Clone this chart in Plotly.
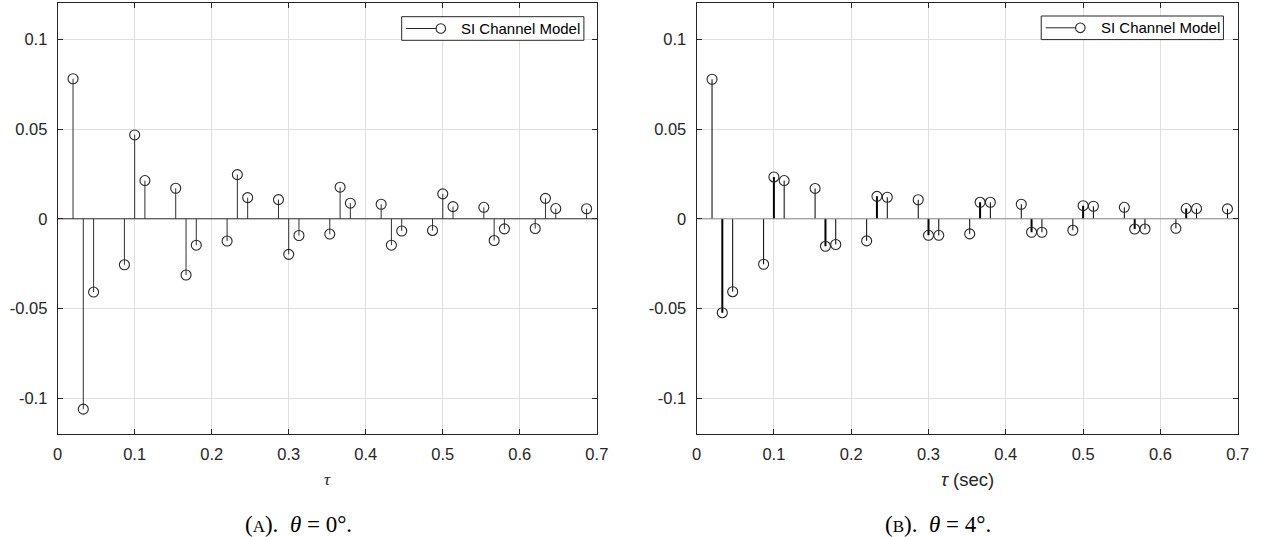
import plotly.graph_objects as go

# ---- data ----
tau = [0.02, 0.0333, 0.0467, 0.0867, 0.1, 0.1133, 0.1533, 0.1667, 0.18,
       0.22, 0.2333, 0.2467, 0.2867, 0.3, 0.3133, 0.3533, 0.3667, 0.38,
       0.42, 0.4333, 0.4467, 0.4867, 0.5, 0.5133, 0.5533, 0.5667, 0.58,
       0.62, 0.6333, 0.6467, 0.6867]
h_theta0 = [0.078, -0.106, -0.0408, -0.0256, 0.0467, 0.0213, 0.0170, -0.0313, -0.0147,
            -0.0124, 0.0246, 0.0118, 0.0107, -0.0198, -0.0093, -0.0085, 0.0176, 0.0087,
            0.0081, -0.0147, -0.0068, -0.0065, 0.0139, 0.0068, 0.0064, -0.0121, -0.0056,
            -0.0054, 0.0114, 0.0057, 0.0056]
h_theta4 = [0.0777, -0.0523, -0.0406, -0.0253, 0.0233, 0.0213, 0.0169, -0.0153, -0.0143,
            -0.0123, 0.0125, 0.0120, 0.0106, -0.0092, -0.0092, -0.0084, 0.0092, 0.0092,
            0.0081, -0.0075, -0.0075, -0.0064, 0.0073, 0.0070, 0.0064, -0.0057, -0.0057,
            -0.0053, 0.0057, 0.0057, 0.0055]
x_ticks = [0, 0.1, 0.2, 0.3, 0.4, 0.5, 0.6, 0.7]
x_tick_text = ["0", "0.1", "0.2", "0.3", "0.4", "0.5", "0.6", "0.7"]
y_ticks = [-0.1, -0.05, 0, 0.05, 0.1]
y_tick_text = ["-0.1", "-0.05", "0", "0.05", "0.1"]
legend_name = "SI Channel Model"

W, H = 1284, 537
AX = "#262626"
GRID = "#dfdfdf"
SANS = "Liberation Sans, Arial, sans-serif"
SERIF = "Liberation Serif, Times New Roman, serif"
NB = "\u00a0"


def stem_xy(xs, ys, idx):
    sx, sy = [], []
    for i in idx:
        sx += [xs[i], xs[i], None]
        sy += [0, ys[i], None]
    return sx, sy


fig = go.Figure()

panels = [
    ("x", "y", h_theta0, "#303030", "#303030", False),
    ("x2", "y2", h_theta4, "#000000", "#8a8a8a", True),
]

for xa, ya, vals, scol, bcol, thick in panels:
    if thick:
        groups = [([i for i in range(len(tau)) if i % 3 != 1], 1),
                  ([i for i in range(len(tau)) if i % 3 == 1], 2)]
    else:
        groups = [(list(range(len(tau))), 1)]
    for idx, w in groups:
        sx, sy = stem_xy(tau, vals, idx)
        fig.add_trace(go.Scatter(x=sx, y=sy, mode="lines", xaxis=xa, yaxis=ya,
                                 line=dict(color=scol, width=w), showlegend=False,
                                 hoverinfo="skip"))
    fig.add_trace(go.Scatter(x=[0, 0.7], y=[0, 0], mode="lines", xaxis=xa, yaxis=ya,
                             line=dict(color=bcol, width=1), showlegend=False,
                             hoverinfo="skip"))
    fig.add_trace(go.Scatter(x=tau, y=vals, mode="markers", xaxis=xa, yaxis=ya,
                             name=legend_name,
                             marker=dict(symbol="circle-open", size=10,
                                         color="#262626", line=dict(width=1.1)),
                             showlegend=False))

font_ticks = dict(family=SANS, size=16.5, color=AX)

xcommon = dict(range=[0, 0.7], tickvals=x_ticks, ticktext=x_tick_text,
               showgrid=True, gridcolor=GRID, gridwidth=1, zeroline=False,
               showline=True, linecolor=AX, linewidth=1, mirror="ticks",
               ticks="inside", ticklen=5, tickcolor=AX, tickfont=font_ticks,
               ticklabelstandoff=5)
ycommon = dict(range=[-0.12, 0.12], tickvals=y_ticks, ticktext=y_tick_text,
               showgrid=True, gridcolor=GRID, gridwidth=1, zeroline=False,
               showline=True, linecolor=AX, linewidth=1, mirror="ticks",
               ticks="inside", ticklen=5, tickcolor=AX, tickfont=font_ticks,
               ticklabelstandoff=6)

ydom = [1 - 434.3 / H, 1 - 3.3 / H]
fig.update_layout(
    width=W, height=H,
    margin=dict(l=0, r=0, t=0, b=0),
    paper_bgcolor="white", plot_bgcolor="white",
    showlegend=False,
    xaxis=dict(domain=[53.3 / W, 599.3 / W], anchor="y", **xcommon),
    yaxis=dict(domain=ydom, anchor="x", **ycommon),
    xaxis2=dict(domain=[700.3 / W, 1248.3 / W], anchor="y2", **xcommon),
    yaxis2=dict(domain=ydom, anchor="x2", **ycommon),
)

# MATLAB-style legend boxes (line then open circle, then label)
for left, top in [(401.7, 16.7), (1049.3, 16.0)]:
    right = left + 184.5
    bottom = top + 23.6
    cy = (top + bottom) / 2
    fig.add_shape(type="rect", xref="paper", yref="paper",
                  x0=left / W, x1=right / W, y0=1 - bottom / H, y1=1 - top / H,
                  line=dict(color=AX, width=1), fillcolor="white", layer="above")
    fig.add_shape(type="line", xref="paper", yref="paper",
                  x0=(left + 4.5) / W, x1=(left + 35) / W, y0=1 - cy / H, y1=1 - cy / H,
                  line=dict(color=AX, width=1), layer="above")
    cx = left + 39.6
    fig.add_shape(type="circle", xref="paper", yref="paper",
                  x0=(cx - 4.8) / W, x1=(cx + 4.8) / W,
                  y0=1 - (cy + 4.8) / H, y1=1 - (cy - 4.8) / H,
                  line=dict(color=AX, width=1.1), fillcolor="rgba(0,0,0,0)", layer="above")
    fig.add_annotation(xref="paper", yref="paper", x=(left + 58) / W, y=1 - cy / H,
                       xanchor="left", yanchor="middle", showarrow=False,
                       text=legend_name, font=dict(family=SANS, size=15, color="#000"))

cap_a = "(<span style='font-size:17px'>A</span>)." + NB * 2 + "<i>θ</i>" + NB + "=" + NB + "0°."
cap_b = "(<span style='font-size:17px'>B</span>)." + NB * 2 + "<i>θ</i>" + NB + "=" + NB + "4°."
annots = [
    dict(x=326.5 / W, y=1 - 479 / H, text="<i>τ</i>",
         font=dict(family=SERIF, size=17, color=AX)),
    dict(x=975 / W, y=1 - 480 / H, text="<i>τ</i> (sec)",
         font=dict(family=SANS, size=18.5, color=AX)),
    dict(x=297 / W, y=1 - 524 / H, text=cap_a,
         font=dict(family=SERIF, size=23, color="#000")),
    dict(x=945 / W, y=1 - 524 / H, text=cap_b,
         font=dict(family=SERIF, size=23, color="#000")),
]
for a in annots:
    fig.add_annotation(xref="paper", yref="paper", xanchor="center", yanchor="middle",
                       showarrow=False, **a)

fig.write_html("out.html")
